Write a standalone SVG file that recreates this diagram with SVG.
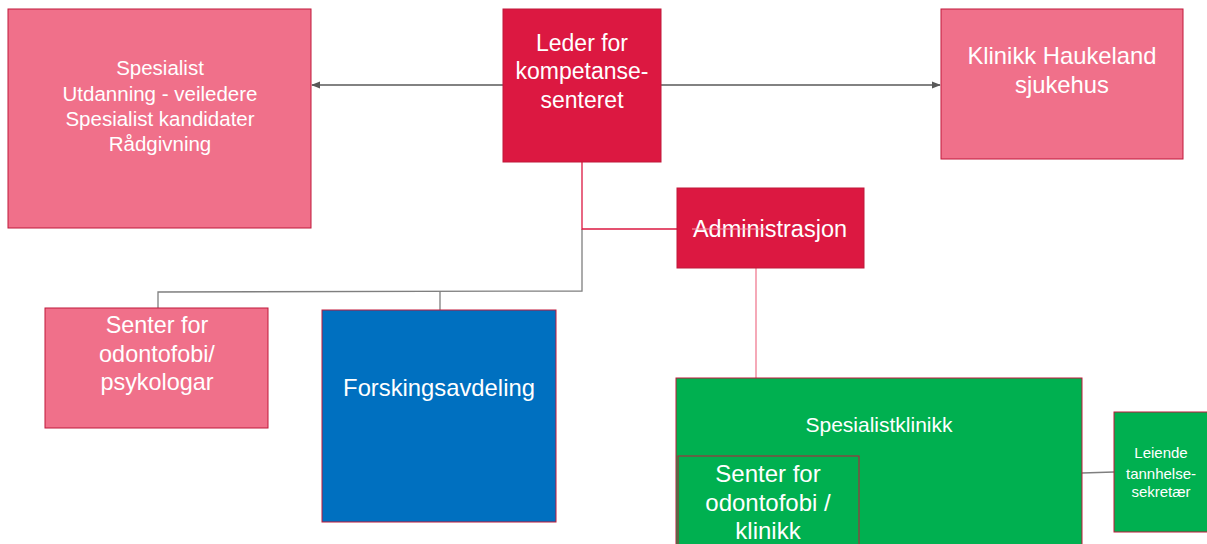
<svg xmlns="http://www.w3.org/2000/svg" width="1207" height="544" viewBox="0 0 1207 544">
<defs>
<style>
.t{font-family:"Liberation Sans",Arial,sans-serif;fill:#ffffff;text-anchor:middle}
.pink{fill:#F0708A;stroke:#C0183A;stroke-width:1}
.red{fill:#DC1841;stroke:#C0183A;stroke-width:1}
.blue{fill:#0070C0;stroke:#C0183A;stroke-width:1}
.green{fill:#00B050;stroke:#C0183A;stroke-width:1}
.gc{fill:none;stroke:#7F7F7F;stroke-width:1.3}
.ac{fill:none;stroke:#595959;stroke-width:1.3}
.rc{fill:none;stroke:#DC1841;stroke-width:1.3}
</style>
<marker id="arr" viewBox="0 0 10 10" refX="9" refY="5" markerWidth="7" markerHeight="7" orient="auto-start-reverse">
<path d="M0,1 L10,5 L0,9 z" fill="#595959"/>
</marker>
</defs>
<rect width="1207" height="544" fill="#ffffff"/>
<g id="connectors">
<line class="ac" x1="503" y1="85" x2="312" y2="85" marker-end="url(#arr)"/>
<line class="ac" x1="661" y1="85" x2="940" y2="85" marker-end="url(#arr)"/>
<polyline class="gc" points="582,229 582,291 158,292 158,308"/>
<line class="gc" x1="440" y1="291" x2="440" y2="310"/>
<polyline class="rc" points="582,162 582,229 677,229"/>
<line stroke="#F07C92" stroke-width="1.3" x1="756" y1="268" x2="756" y2="378"/>
<line class="gc" x1="1082" y1="473" x2="1114" y2="472"/>
</g>
<g id="spesialist">
<rect class="pink" x="8" y="9" width="303" height="219"/>
<text class="t" font-size="20.5"><tspan x="160" y="75">Spesialist</tspan><tspan x="160" y="101">Utdanning - veiledere</tspan><tspan x="160" y="126">Spesialist kandidater</tspan><tspan x="160" y="151">Rådgivning</tspan></text>
</g>
<g id="leder">
<rect class="red" x="503" y="9" width="158" height="153"/>
<text class="t" font-size="23"><tspan x="582" y="51">Leder for</tspan><tspan x="582" y="79">kompetanse-</tspan><tspan x="582" y="108">senteret</tspan></text>
</g>
<g id="klinikk">
<rect class="pink" x="941" y="9" width="242" height="150"/>
<text class="t" font-size="23.8"><tspan x="1062" y="64">Klinikk Haukeland</tspan><tspan x="1062" y="93">sjukehus</tspan></text>
</g>
<g id="administrasjon">
<rect class="red" x="677" y="188" width="187" height="80"/>
<text class="t" font-size="23.5" x="770" y="237">Administrasjon</text>
<line x1="692" y1="229" x2="765" y2="229" stroke="#F4A0B0" stroke-width="1"/>
</g>
<g id="senter-psyk">
<rect class="pink" x="45" y="308" width="223" height="120"/>
<text class="t" font-size="23.4"><tspan x="157" y="333">Senter for</tspan><tspan x="157" y="362">odontofobi/</tspan><tspan x="157" y="390">psykologar</tspan></text>
</g>
<g id="forsking">
<rect class="blue" x="322" y="310" width="234" height="212"/>
<text class="t" font-size="23.8" x="439" y="396">Forskingsavdeling</text>
</g>
<g id="spesialistklinikk">
<rect class="green" x="676" y="378" width="406" height="170"/>
<text class="t" font-size="21" x="879" y="432">Spesialistklinikk</text>
</g>
<g id="senter-klinikk">
<rect class="green" x="678" y="456" width="181" height="92"/>
<text class="t" font-size="24"><tspan x="768" y="482">Senter for</tspan><tspan x="768" y="511">odontofobi /</tspan><tspan x="768" y="539">klinikk</tspan></text>
</g>
<g id="leiende">
<rect class="green" x="1114" y="412" width="97" height="120"/>
<text class="t" font-size="15"><tspan x="1161" y="458">Leiende</tspan><tspan x="1161" y="479">tannhelse-</tspan><tspan x="1161" y="497">sekretær</tspan></text>
</g>
</svg>
